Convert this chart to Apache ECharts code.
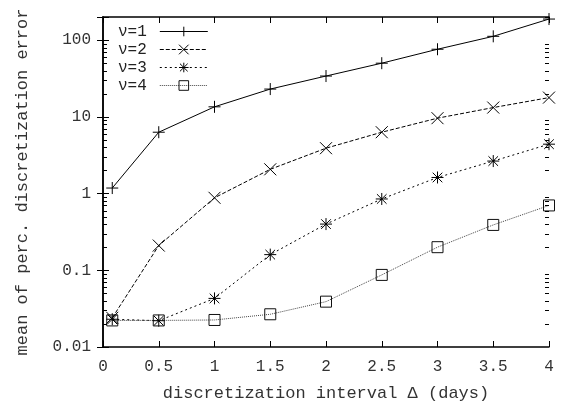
<!DOCTYPE html>
<html>
<head>
<meta charset="utf-8">
<script src="https://cdn.jsdelivr.net/npm/echarts@6/dist/echarts.min.js"></script>
<style>
  html, body { margin: 0; padding: 0; background: #fff; }
  #main { width: 563px; height: 406px; }
</style>
</head>
<body>
<div id="main"></div>
<script>
// discretization interval (days)
var intervals = [0.083, 0.5, 1, 1.5, 2, 2.5, 3, 3.5, 4];
var nu1 = [1.18, 6.3, 13.5, 23, 34, 50, 76, 112, 188];
var nu2 = [0.024, 0.21, 0.88, 2.07, 3.9, 6.3, 9.6, 13.2, 17.8];
var nu3 = [0.023, 0.022, 0.043, 0.16, 0.40, 0.85, 1.62, 2.65, 4.4];
var nu4 = [0.0222, 0.0222, 0.0225, 0.0267, 0.039, 0.087, 0.20, 0.39, 0.70];
var seriesNames = ['ν=1', 'ν=2', 'ν=3', 'ν=4'];
// log minor tick values (2..9 in each decade)
var minorTicks = [];
[0.01, 0.1, 1, 10, 100].forEach(function (d) {
  for (var k = 2; k <= 9; k++) {
    if (d * k <= 200) minorTicks.push(d * k);
  }
});

var font = '"Liberation Mono", "DejaVu Sans Mono", monospace';
var symPlus = 'path://M0,5L10,5M5,0L5,10';
var symCross = 'path://M0,0L10,10M0,10L10,0';
var symStar = 'path://M0,5L10,5M5,0L5,10M1,1L9,9M1,9L9,1';

function pairs(ys) {
  return intervals.map(function (x, i) { return [x, ys[i]]; });
}

function lineSeries(name, ys, symbol, size, dash, color, symColor) {
  return {
    name: name,
    type: 'line',
    data: pairs(ys),
    symbol: symbol,
    symbolSize: size,
    showAllSymbol: true,
    animation: false,
    itemStyle: { color: 'transparent', borderColor: symColor, borderWidth: 1 },
    lineStyle: { color: color, width: 1, type: dash },
    emphasis: { disabled: true }
  };
}

var myChart = echarts.init(document.getElementById('main'));

var xAxisBase = {
  type: 'value',
  min: 0,
  max: 4,
  interval: 0.5,
  axisLine: { show: true, onZero: false, lineStyle: { color: '#000', width: 1.5 } },
  axisTick: { show: true, inside: true, length: 6, lineStyle: { color: '#000' } },
  splitLine: { show: false }
};
var yAxisBase = {
  type: 'log',
  logBase: 10,
  min: 0.01,
  max: 200,
  axisLine: { show: true, lineStyle: { color: '#000', width: 1.5 } },
  axisTick: { show: true, inside: true, length: 6, lineStyle: { color: '#000' } },
  splitLine: { show: false }
};

myChart.setOption({
  animation: false,
  grid: { left: 103, right: 14, top: 17, bottom: 59, outerBoundsMode: 'none', containLabel: false },
  legend: {
    left: 113,
    top: 18,
    orient: 'vertical',
    align: 'right',
    itemWidth: 48,
    itemHeight: 12,
    itemGap: 1,
    data: seriesNames,
    lineStyle: { width: 1 },
    itemStyle: { borderWidth: 1 },
    textStyle: { fontFamily: font, fontSize: 16, lineHeight: 17, color: '#222', padding: [0, 8, 0, 0] }
  },
  xAxis: [
    Object.assign({}, xAxisBase, {
      position: 'bottom',
      name: 'discretization interval Δ (days)',
      nameLocation: 'middle',
      nameGap: 38,
      nameTextStyle: { fontFamily: font, fontSize: 17, color: '#333' },
      axisLabel: { fontFamily: font, fontSize: 16, color: '#333', margin: 12 }
    }),
    Object.assign({}, xAxisBase, { position: 'top', axisLabel: { show: false } })
  ],
  yAxis: [
    Object.assign({}, yAxisBase, {
      position: 'left',
      name: 'mean of perc. discretization error',
      nameLocation: 'middle',
      nameGap: 72,
      nameTextStyle: { fontFamily: font, fontSize: 17, color: '#333' },
      axisLabel: {
        fontFamily: font, fontSize: 16, color: '#333', margin: 12,
        formatter: function (v) {
          var l = Math.log10(v);
          if (Math.abs(l - Math.round(l)) > 1e-6) return '';
          return String(parseFloat(v.toPrecision(3)));
        }
      }
    }),
    Object.assign({}, yAxisBase, { position: 'right', axisLabel: { show: false } })
  ],
  series: [
    lineSeries(seriesNames[0], nu1, symPlus, 12, 'solid', '#000', '#000'),
    lineSeries(seriesNames[1], nu2, symCross, 12, [4, 2], '#000', '#000'),
    lineSeries(seriesNames[2], nu3, symStar, 12, [2, 3], '#000', '#000'),
    lineSeries(seriesNames[3], nu4, 'rect', 11, [1, 1], '#444', '#111')
  ]
});

// minor log ticks on the left and right frame, placed through the axis scale
var tickEls = [];
minorTicks.forEach(function (v) {
  var l = myChart.convertToPixel({ xAxisIndex: 0, yAxisIndex: 0 }, [0, v]);
  var r = myChart.convertToPixel({ xAxisIndex: 0, yAxisIndex: 0 }, [4, v]);
  var y = Math.round(l[1]) + 0.5;
  tickEls.push({ type: 'line', silent: true, z: 10, shape: { x1: l[0], y1: y, x2: l[0] + 4, y2: y }, style: { stroke: '#000', lineWidth: 1 } });
  tickEls.push({ type: 'line', silent: true, z: 10, shape: { x1: r[0], y1: y, x2: r[0] - 4, y2: y }, style: { stroke: '#000', lineWidth: 1 } });
});
myChart.setOption({ graphic: tickEls });
</script>
</body>
</html>
